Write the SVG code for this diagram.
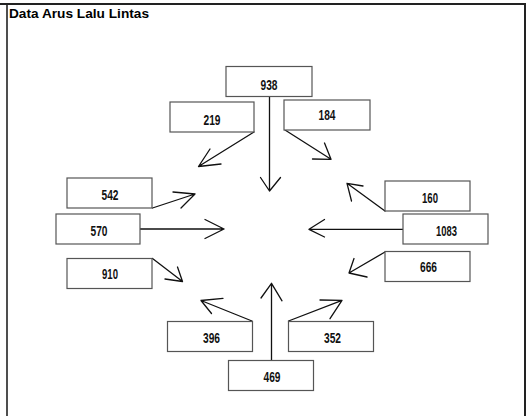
<svg xmlns="http://www.w3.org/2000/svg" width="526" height="416" viewBox="0 0 526 416">
<style>
.frame{stroke:#222;fill:none}
.box{fill:#fff;stroke:#555;stroke-width:1.2}
.lbl{font-family:"Liberation Sans Narrow","Liberation Sans",Arial,sans-serif;font-size:14.5px;font-weight:bold;fill:#111;text-anchor:middle}
.title{font-family:"Liberation Sans",Arial,sans-serif;font-size:12.5px;font-weight:bold;fill:#000}
.ar{stroke:#111;stroke-width:1.3;fill:none;stroke-linecap:round;stroke-linejoin:round}
</style>
<rect x="0" y="0" width="526" height="416" fill="#fff"/>
<g id="frame">
<line class="frame" x1="0" y1="4" x2="526" y2="4" stroke-width="2"/>
<line class="frame" x1="7" y1="3" x2="7" y2="416" stroke-width="1.6"/>
<line class="frame" x1="525" y1="3" x2="525" y2="416" stroke-width="2"/>
</g>
<text class="title" x="9" y="18" textLength="140" lengthAdjust="spacingAndGlyphs">Data Arus Lalu Lintas</text>
<g id="connectors">
<path class="ar" d="M269.5,96 V191 M260.5,177.5 L269.5,191 L280.5,177.5"/>
<path class="ar" d="M254,132 L198.5,166.5 M210,149 L198.5,166.5 L221,164"/>
<path class="ar" d="M285,130 L331,159.3 M324.5,143 L331,159.3 L312.5,159"/>
<path class="ar" d="M152.5,208 L195,194 M173,192 L195,194 L181,208"/>
<path class="ar" d="M140,229 H224 M205,219.5 L224,229 L205,238.5"/>
<path class="ar" d="M152.5,258.5 L182.5,281.5 M177.5,267 L182.5,281.5 L165,279"/>
<path class="ar" d="M385,211 L347,183.3 M351.5,201 L347,183.3 L363,186"/>
<path class="ar" d="M403,229.3 H309 M324.5,219.5 L309,229.3 L324.5,237"/>
<path class="ar" d="M385,252 L349,273 M354,258.5 L349,273 L367,277"/>
<path class="ar" d="M252,321 L201,300.5 M223,298.3 L201,300.5 L211.5,313.5"/>
<path class="ar" d="M271.5,360 V283.3 M261,298 L271.5,283.3 L282,300.8"/>
<path class="ar" d="M288.5,321 L342,300.3 M320,300 L342,300.3 L330,318.7"/>
</g>
<g id="n938"><rect class="box" x="226" y="66.5" width="86" height="30"/><text class="lbl" x="269" y="89.5" textLength="17" lengthAdjust="spacingAndGlyphs">938</text></g>
<g id="n219"><rect class="box" x="170" y="102" width="84" height="30"/><text class="lbl" x="212" y="124.5" textLength="17" lengthAdjust="spacingAndGlyphs">219</text></g>
<g id="n184"><rect class="box" x="284" y="100" width="86" height="30"/><text class="lbl" x="327" y="119.5" textLength="17" lengthAdjust="spacingAndGlyphs">184</text></g>
<g id="n542"><rect class="box" x="67" y="178" width="85" height="30"/><text class="lbl" x="110" y="200" textLength="17" lengthAdjust="spacingAndGlyphs">542</text></g>
<g id="n570"><rect class="box" x="56" y="214" width="84" height="30"/><text class="lbl" x="99" y="235.5" textLength="17" lengthAdjust="spacingAndGlyphs">570</text></g>
<g id="n910"><rect class="box" x="67" y="258.5" width="85" height="30"/><text class="lbl" x="110" y="279" textLength="16" lengthAdjust="spacingAndGlyphs">910</text></g>
<g id="n160"><rect class="box" x="385" y="181" width="85" height="30"/><text class="lbl" x="430" y="202.5" textLength="16" lengthAdjust="spacingAndGlyphs">160</text></g>
<g id="n1083"><rect class="box" x="403" y="214" width="85" height="30"/><text class="lbl" x="446.5" y="235.5" textLength="21" lengthAdjust="spacingAndGlyphs">1083</text></g>
<g id="n666"><rect class="box" x="385" y="251.5" width="85" height="30"/><text class="lbl" x="428.5" y="272" textLength="17" lengthAdjust="spacingAndGlyphs">666</text></g>
<g id="n396"><rect class="box" x="167.5" y="321.5" width="85" height="30"/><text class="lbl" x="211.5" y="342.5" textLength="17" lengthAdjust="spacingAndGlyphs">396</text></g>
<g id="n352"><rect class="box" x="288.5" y="321.5" width="85" height="30"/><text class="lbl" x="332.5" y="342.5" textLength="17" lengthAdjust="spacingAndGlyphs">352</text></g>
<g id="n469"><rect class="box" x="228.5" y="360.5" width="85" height="30"/><text class="lbl" x="272" y="381.5" textLength="17" lengthAdjust="spacingAndGlyphs">469</text></g>
</svg>
